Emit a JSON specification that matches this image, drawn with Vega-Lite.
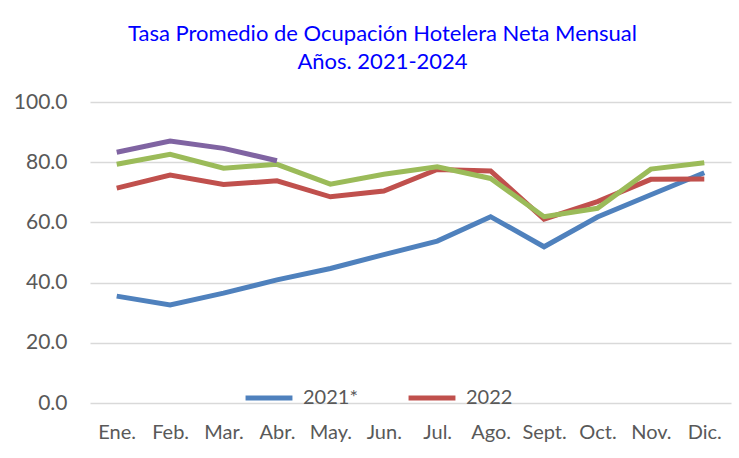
{
  "$schema": "https://vega.github.io/schema/vega-lite/v6.json",
  "width": 641,
  "height": 301,
  "autosize": {"type": "none"},
  "padding": {"left": 90, "top": 102, "right": 8, "bottom": 55},
  "background": "white",
  "title": {
    "text": ["Tasa Promedio de Ocupación Hotelera Neta Mensual", "Años. 2021-2024"],
    "color": "#0000FF",
    "font": "Lato",
    "fontSize": 22,
    "fontWeight": "normal",
    "lineHeight": 28,
    "anchor": "middle",
    "dx": -28,
    "offset": 17
  },
  "data": {
    "values": [
      {"mes": "Ene.", "anio": "2021*", "valor": 35.5},
      {"mes": "Feb.", "anio": "2021*", "valor": 32.6},
      {"mes": "Mar.", "anio": "2021*", "valor": 36.5},
      {"mes": "Abr.", "anio": "2021*", "valor": 40.9},
      {"mes": "May.", "anio": "2021*", "valor": 44.7},
      {"mes": "Jun.", "anio": "2021*", "valor": 49.3},
      {"mes": "Jul.", "anio": "2021*", "valor": 53.8},
      {"mes": "Ago.", "anio": "2021*", "valor": 61.9},
      {"mes": "Sept.", "anio": "2021*", "valor": 51.9},
      {"mes": "Oct.", "anio": "2021*", "valor": 61.8},
      {"mes": "Nov.", "anio": "2021*", "valor": 69.2},
      {"mes": "Dic.", "anio": "2021*", "valor": 76.5},
      {"mes": "Ene.", "anio": "2022", "valor": 71.4},
      {"mes": "Feb.", "anio": "2022", "valor": 75.7},
      {"mes": "Mar.", "anio": "2022", "valor": 72.6},
      {"mes": "Abr.", "anio": "2022", "valor": 73.8},
      {"mes": "May.", "anio": "2022", "valor": 68.5},
      {"mes": "Jun.", "anio": "2022", "valor": 70.4},
      {"mes": "Jul.", "anio": "2022", "valor": 77.6},
      {"mes": "Ago.", "anio": "2022", "valor": 77.1},
      {"mes": "Sept.", "anio": "2022", "valor": 61.1},
      {"mes": "Oct.", "anio": "2022", "valor": 66.9},
      {"mes": "Nov.", "anio": "2022", "valor": 74.3},
      {"mes": "Dic.", "anio": "2022", "valor": 74.4},
      {"mes": "Ene.", "anio": "2023", "valor": 79.3},
      {"mes": "Feb.", "anio": "2023", "valor": 82.6},
      {"mes": "Mar.", "anio": "2023", "valor": 78.0},
      {"mes": "Abr.", "anio": "2023", "valor": 79.3},
      {"mes": "May.", "anio": "2023", "valor": 72.7},
      {"mes": "Jun.", "anio": "2023", "valor": 76.0},
      {"mes": "Jul.", "anio": "2023", "valor": 78.5},
      {"mes": "Ago.", "anio": "2023", "valor": 74.6},
      {"mes": "Sept.", "anio": "2023", "valor": 61.9},
      {"mes": "Oct.", "anio": "2023", "valor": 64.7},
      {"mes": "Nov.", "anio": "2023", "valor": 77.7},
      {"mes": "Dic.", "anio": "2023", "valor": 79.8},
      {"mes": "Ene.", "anio": "2024", "valor": 83.3},
      {"mes": "Feb.", "anio": "2024", "valor": 87.0},
      {"mes": "Mar.", "anio": "2024", "valor": 84.6},
      {"mes": "Abr.", "anio": "2024", "valor": 80.5}
    ]
  },
  "mark": {"type": "line", "strokeWidth": 5, "strokeCap": "butt", "strokeJoin": "miter"},
  "encoding": {
    "x": {
      "field": "mes",
      "type": "ordinal",
      "sort": ["Ene.", "Feb.", "Mar.", "Abr.", "May.", "Jun.", "Jul.", "Ago.", "Sept.", "Oct.", "Nov.", "Dic."],
      "scale": {"type": "point", "padding": 0.5},
      "axis": {
        "title": null,
        "labelAngle": 0,
        "domain": false,
        "ticks": false,
        "grid": false,
        "labelFont": "Lato",
        "labelFontSize": 20,
        "labelColor": "#595959",
        "labelPadding": 19
      }
    },
    "y": {
      "field": "valor",
      "type": "quantitative",
      "scale": {"domain": [0, 100], "nice": false},
      "axis": {
        "title": null,
        "values": [0, 20, 40, 60, 80, 100],
        "format": ".1f",
        "domain": false,
        "ticks": false,
        "grid": true,
        "gridColor": "#d9d9d9",
        "gridWidth": 1.5,
        "labelFont": "Lato",
        "labelFontSize": 21,
        "labelColor": "#595959",
        "labelPadding": 23
      }
    },
    "color": {
      "field": "anio",
      "type": "nominal",
      "scale": {
        "domain": ["2021*", "2022", "2023", "2024"],
        "range": ["#4F81BD", "#C0504D", "#9BBB59", "#8064A2"]
      },
      "legend": {
        "title": null,
        "values": ["2021*", "2022"],
        "orient": "none",
        "direction": "horizontal",
        "legendX": 153,
        "legendY": 270,
        "symbolType": "stroke",
        "symbolSize": 2200,
        "symbolStrokeWidth": 5,
        "labelFont": "Lato",
        "labelFontSize": 20,
        "labelColor": "#595959",
        "labelOffset": 8,
        "columnPadding": 40
      }
    }
  },
  "config": {"view": {"stroke": null}}
}
